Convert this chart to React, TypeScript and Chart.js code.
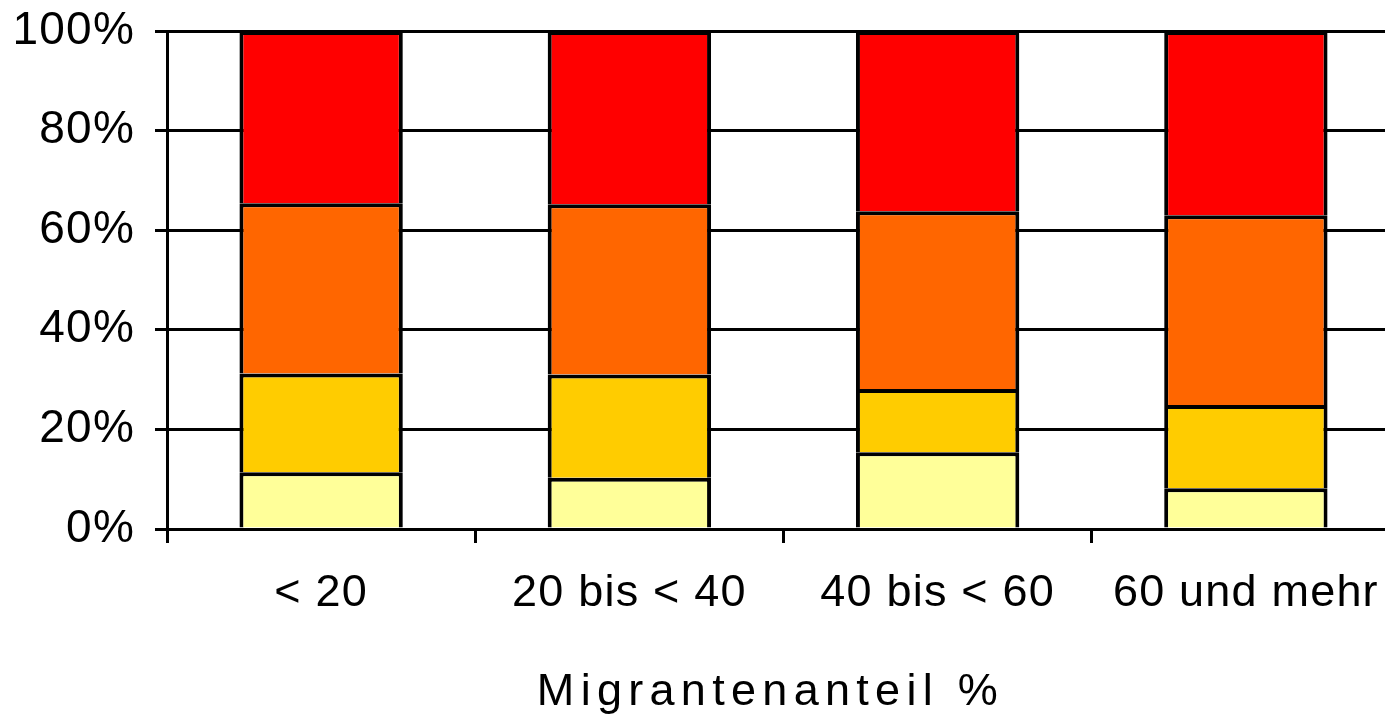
import React, { useEffect, useRef } from "react";
import { Chart, registerables } from "chart.js";

Chart.register(...registerables);

const categories = ["< 20", "20 bis < 40", "40 bis < 60", "60 und mehr"];
const lightYellow = [11.4, 10.3, 15.4, 8.2];
const yellow = [19.8, 20.7, 12.7, 16.7];
const orange = [34.2, 34.2, 35.7, 38.1];
const red = [34.6, 34.8, 36.2, 37.0];
const yTicks = [0, 20, 40, 60, 80, 100];
const xTitle = "Migrantenanteil %";

const FONT = "'Liberation Sans', Arial, sans-serif";

const titlePlugin = {
  id: "spacedTitle",
  beforeDraw(chart: any) {
    (chart.ctx as any).letterSpacing = "1.2px";
  },
  afterDraw(chart: any) {
    const ctx = chart.ctx;
    const area = chart.chartArea;
    ctx.save();
    ctx.font = `45px ${FONT}`;
    ctx.fillStyle = "#000";
    (ctx as any).letterSpacing = "6.3px";
    ctx.textAlign = "center";
    ctx.textBaseline = "alphabetic";
    ctx.fillText(xTitle, (area.left + area.right) / 2 - 13, 705);
    ctx.restore();
    (ctx as any).letterSpacing = "0px";
  },
};

export default function App() {
  const ref = useRef<HTMLCanvasElement | null>(null);
  useEffect(() => {
    if (!ref.current) return;
    const mk = (label: string, data: number[], color: string) => ({
      label,
      data,
      backgroundColor: color,
      borderColor: "#000",
      borderWidth: 4,
      borderSkipped: "start",
      inflateAmount: 0,
      barPercentage: 1,
      categoryPercentage: 0.53,
    });
    const chart = new Chart(ref.current, {
      type: "bar",
      data: {
        labels: categories,
        datasets: [
          mk("a", lightYellow, "#FFFF99"),
          mk("b", yellow, "#FFCC00"),
          mk("c", orange, "#FF6600"),
          mk("d", red, "#FF0000"),
        ] as any,
      },
      options: {
        animation: false,
        responsive: false,
        layout: { padding: { top: 31, left: 0, right: 0, bottom: 0 } },
        plugins: { legend: { display: false }, tooltip: { enabled: false } },
        scales: {
          x: {
            stacked: true,
            afterFit(scale: any) {
              scale.height = 185;
            },
            grid: {
              drawOnChartArea: false,
              drawTicks: true,
              tickLength: 14,
              color: "#000",
              lineWidth: 3,
              offset: true,
            },
            border: { display: true, color: "#000", width: 3 },
            ticks: {
              color: "#000",
              font: { family: FONT, size: 45 },
              padding: 24,
              maxRotation: 0,
              autoSkip: false,
            },
          },
          y: {
            stacked: true,
            min: 0,
            max: 100,
            afterFit(scale: any) {
              scale.width = 167;
              scale.paddingTop = 0;
              scale.paddingBottom = 0;
            },
            afterBuildTicks(scale: any) {
              scale.ticks = yTicks.map((v) => ({ value: v }));
            },
            grid: {
              color: "#000",
              lineWidth: 3,
              tickLength: 12,
              drawTicks: true,
            },
            border: { display: true, color: "#000", width: 3 },
            ticks: {
              color: "#000",
              font: { family: FONT, size: 46 },
              padding: 20,
              callback: (v: any) => v + "%",
            },
          },
        },
      } as any,
      plugins: [titlePlugin],
    });
    return () => chart.destroy();
  }, []);
  return (
    <div
      style={{
        position: "fixed",
        left: 0,
        top: 0,
        width: 1385,
        height: 714,
        overflow: "hidden",
        background: "#fff",
      }}
    >
      <canvas ref={ref} width={1400} height={714} style={{ display: "block" }} />
    </div>
  );
}
